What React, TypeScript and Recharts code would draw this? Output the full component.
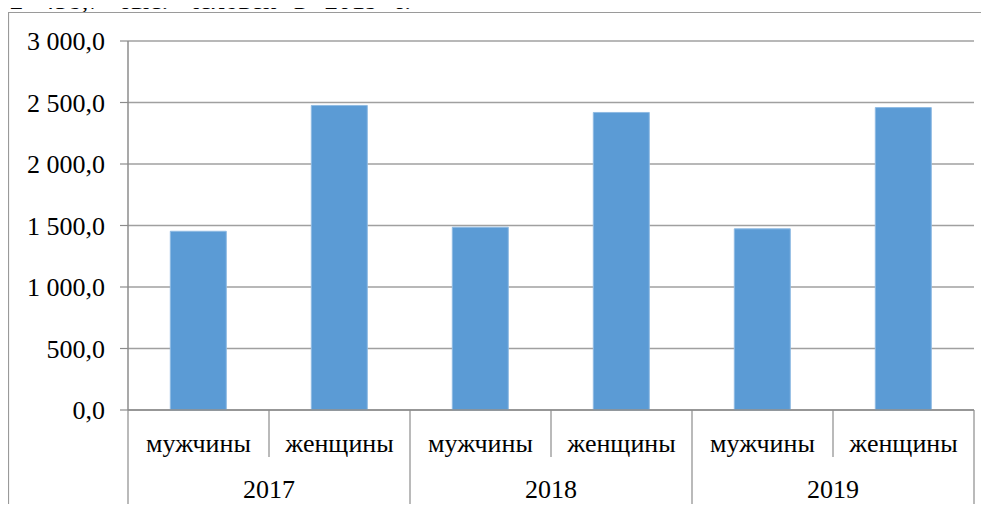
import React from "react";
import { BarChart, Bar, XAxis, YAxis, CartesianGrid } from "recharts";

const years = ["2017", "2017", "2018", "2018", "2019", "2019"];
const sexLabels = ["мужчины", "женщины", "мужчины", "женщины", "мужчины", "женщины"];
const values = [1453, 2476, 1486, 2419, 1473, 2458.7];
const yTicks = [0, 500, 1000, 1500, 2000, 2500, 3000];
const captionTail = ", 2 458,7 тыс. человек в 2019 г.";

const data = sexLabels.map((label, i) => ({
  key: `${years[i]}-${label}`,
  label,
  year: years[i],
  value: values[i],
}));

const FONT = "'Liberation Serif'";
const AXIS = "#8c8c8c";

const fmt = (v: number) => {
  const [int, dec] = v.toFixed(1).split(".");
  const withSpaces = int.replace(/\B(?=(\d{3})+(?!\d))/g, " ");
  return `${withSpaces},${dec}`;
};

const CategoryTick = (props: any) => {
  const { x, y, payload, index } = props;
  const idx = payload?.index ?? index;
  const half = payload?.offset ?? 70.5;
  const d = data[idx];
  const left = x - half;
  const right = x + half;
  const groupStart = idx % 2 === 0;
  const isLast = idx === data.length - 1;
  return (
    <g>
      <text
        x={x}
        y={y + 42}
        textAnchor="middle"
        fontSize={26}
        style={{ fontFamily: FONT }}
        fill="#000"
      >
        {d.label}
      </text>
      <line
        x1={left}
        x2={left}
        y1={y}
        y2={groupStart ? y + 95 : y + 47}
        stroke={AXIS}
        strokeWidth={1.2}
      />
      {isLast && (
        <line x1={right} x2={right} y1={y} y2={y + 95} stroke={AXIS} strokeWidth={1.2} />
      )}
      {groupStart && (
        <text
          x={right}
          y={y + 88}
          textAnchor="middle"
          fontSize={26}
          style={{ fontFamily: FONT }}
          fill="#000"
        >
          {d.year}
        </text>
      )}
    </g>
  );
};

const YTick = (props: any) => {
  const { x, y, payload } = props;
  return (
    <text
      x={x}
      y={y}
      dy={9}
      textAnchor="end"
      fontSize={26}
      style={{ fontFamily: FONT }}
      fill="#000"
    >
      {fmt(payload.value)}
    </text>
  );
};

export default function App() {
  return (
    <div
      style={{
        position: "relative",
        width: 989,
        height: 512,
        margin: -8,
        overflow: "hidden",
        background: "#fff",
        fontFamily: FONT,
      }}
    >
      <svg
        width={989}
        height={512}
        style={{ position: "absolute", left: 0, top: 0 }}
      >
        <text
          x={411}
          y={9}
          textAnchor="end"
          fontSize={27}
          style={{ fontFamily: FONT, wordSpacing: 11 }}
          fill="#000"
        >
          {captionTail}
        </text>
        <line x1={8.5} x2={8.5} y1={12} y2={512} stroke="#9a9a9a" strokeWidth={1.2} />
        <line x1={8} x2={989} y1={12.5} y2={12.5} stroke="#9a9a9a" strokeWidth={1.2} />
      </svg>
      <div style={{ position: "absolute", left: 0, top: 0 }}>
        <BarChart
          width={989}
          height={512}
          data={data}
          margin={{ top: 41, right: 15, bottom: 0, left: 0 }}
          barCategoryGap="30%"
        >
          <CartesianGrid vertical={false} stroke="#a0a0a0" strokeWidth={1.3} />
          <XAxis
            dataKey="key"
            interval={0}
            height={102}
            tickLine={false}
            tickSize={0}
            tickMargin={0}
            axisLine={{ stroke: AXIS, strokeWidth: 1.5 }}
            tick={<CategoryTick />}
          />
          <YAxis
            width={128}
            domain={[0, 3000]}
            ticks={yTicks}
            interval={0}
            tickSize={8}
            tickMargin={15}
            axisLine={{ stroke: AXIS, strokeWidth: 1.5 }}
            tickLine={{ stroke: AXIS, strokeWidth: 1.2 }}
            tick={<YTick />}
          />
          <Bar
            dataKey="value"
            fill="#5B9BD5"
            stroke="#8fbbe3"
            strokeWidth={1}
            isAnimationActive={false}
          />
        </BarChart>
      </div>
    </div>
  );
}
